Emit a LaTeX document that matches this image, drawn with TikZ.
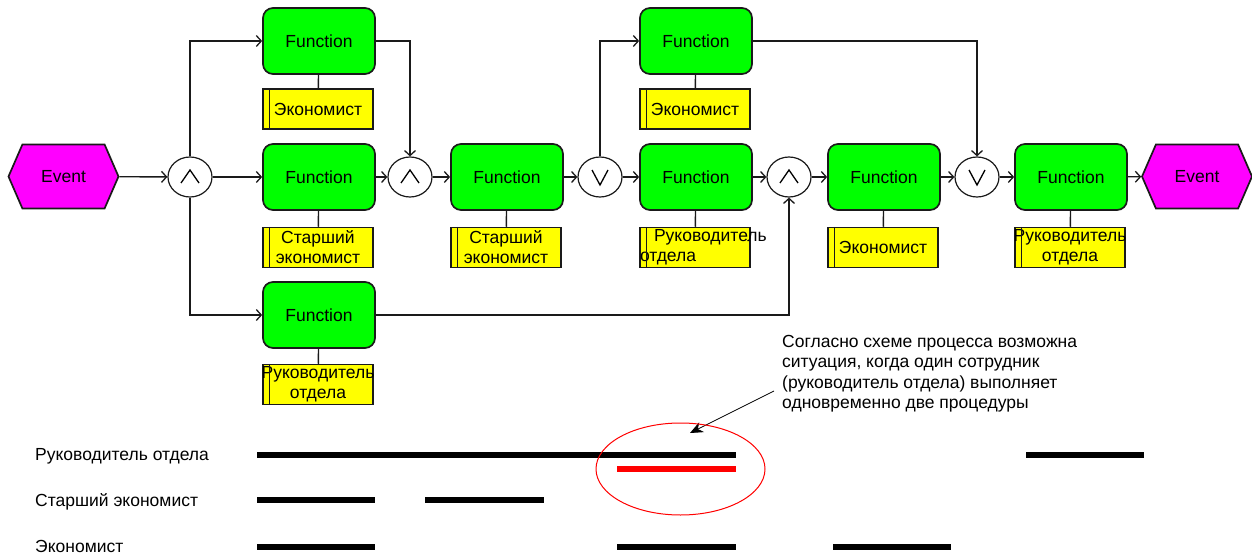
\documentclass[tikz,border=0pt]{standalone}
\usepackage{fontspec}
\setmainfont{Liberation Sans}
\usetikzlibrary{arrows.meta,shapes.geometric,shapes.symbols}
\definecolor{fngreen}{HTML}{00FF00}
\definecolor{evmagenta}{HTML}{FF00FF}
\definecolor{roleyellow}{HTML}{FFFF00}
\definecolor{hilite}{HTML}{FF0000}
\definecolor{edge}{HTML}{1A1A1A}
\begin{document}
\begin{tikzpicture}[x=1pt,y=-1pt,
  txt/.style={font=\fontsize{17.5}{20}\selectfont},
  fn/.style={txt, draw=edge, line width=1.7, fill=fngreen, rounded corners=10,
    minimum width=112, minimum height=66, inner sep=0},
  role/.style={txt, draw=edge, line width=1.5, fill=roleyellow,
    minimum width=110, minimum height=40, inner sep=0, align=center},
  ev/.style={txt, signal, signal to=west and east, signal pointer angle=133,
    draw=edge, line width=1.7, fill=evmagenta, minimum width=110,
    minimum height=64, inner sep=0},
  conn/.style={ellipse, draw=edge, line width=1.2, fill=white,
    minimum width=44, minimum height=40, inner sep=0},
  glyph/.style={line width=1.3, line join=miter},
  flow/.style={line width=1.4, draw=edge, -{Straight Barb[length=5,width=11,line width=1.3]}},
  attach/.style={line width=1.4, draw=edge},
  bar/.style={line width=6, line cap=butt},
  lbl/.style={txt, inner sep=0, anchor=base west},
]
\useasboundingbox (0,0) rectangle (1252,556);

% events
\node[ev] (evL) at (63.5,176.5) {Event};
\node[ev] (evR) at (1197,176.5) {Event};

% functions
\node[fn] (f1) at (319,41) {Function};
\node[fn] (f2) at (319,177) {Function};
\node[fn] (f8) at (319,315) {Function};
\node[fn] (f3) at (507,177) {Function};
\node[fn] (f4) at (696,41) {Function};
\node[fn] (f5) at (696,177) {Function};
\node[fn] (f6) at (884,177) {Function};
\node[fn] (f7) at (1071,177) {Function};

% organisational units
\node[role] (r1) at (318,109) {Экономист};
\node[role] (r2) at (318,247.5) {Старший\\экономист};
\node[role] (r8) at (318,384.5) {\makebox[100pt]{Руководитель}\\отдела};
\node[role] (r3) at (506,247.5) {Старший\\экономист};
\node[role] (r4) at (695,109) {Экономист};
\node[role, text width=110, align=left] (r5) at (695,247.5) {\hspace*{14pt}Руководитель\\отдела};
\node[role] (r6) at (883,247.5) {Экономист};
\node[role] (r7) at (1070,247.5) {\makebox[100pt]{Руководитель}\\отдела};
\foreach \r in {r1,r2,r3,r4,r5,r6,r7,r8}
  \draw[line width=1.2, draw=edge] ([xshift=7]\r.north west) -- ([xshift=7]\r.south west);

% rule connectors
\node[conn] (a1) at (190,177) {};
\node[conn] (a2) at (410,177) {};
\node[conn] (o1) at (600,177) {};
\node[conn] (a3) at (789,177) {};
\node[conn] (o2) at (977,177) {};
\foreach \c in {a1,a2,a3}
  \draw[glyph] ([shift={(-9,6)}]\c.center) -- ([shift={(0,-7)}]\c.center) -- ([shift={(9,6)}]\c.center);
\foreach \c in {o1,o2}
  \draw[glyph] ([shift={(-8,-7)}]\c.center) -- ([shift={(0,8)}]\c.center) -- ([shift={(8,-7)}]\c.center);

% control flow
\draw[flow] (evL) -- (a1);
\draw[flow] (a1) |- (f1);
\draw[flow] (a1) -- (f2);
\draw[flow] (a1) |- (f8);
\draw[flow] (f1) -| (a2);
\draw[flow] (f2) -- (a2);
\draw[flow] (a2) -- (f3);
\draw[flow] (f3) -- (o1);
\draw[flow] (o1) |- (f4);
\draw[flow] (o1) -- (f5);
\draw[flow] (f5) -- (a3);
\draw[flow] (f8) -| (a3);
\draw[flow] (a3) -- (f6);
\draw[flow] (f4) -| (o2);
\draw[flow] (f6) -- (o2);
\draw[flow] (o2) -- (f7);
\draw[flow] (f7) -- (evR);

% unit assignments
\foreach \f/\r in {f1/r1,f2/r2,f8/r8,f3/r3,f4/r4,f5/r5,f6/r6,f7/r7}
  \draw[attach] (\f) -- (\r);

% note
\node[txt, inner sep=0, anchor=north west, align=left,
  font=\fontsize{17.5}{20.5}\selectfont] (note) at (782,335)
  {Согласно схеме процесса возможна\\ситуация, когда один сотрудник\\(руководитель отдела) выполняет\\одновременно две процедуры};
\coordinate (tail) at (774,391);
\coordinate (tip) at (690,433);
\draw[line width=0.8, -{Stealth[length=13,width=11]}] (tail) -- (tip);

% workload timeline
\node[lbl] (t1) at (35,460) {Руководитель отдела};
\node[lbl] (t2) at (35,506) {Старший экономист};
\node[lbl] (t3) at (35,552) {Экономист};
\draw[bar] (257,455) -- (736,455);
\draw[bar] (1026,455) -- (1144,455);
\draw[bar, hilite] (617,469) -- (736,469);
\draw[bar] (257,500) -- (375,500);
\draw[bar] (425,500) -- (544,500);
\draw[bar] (257,547) -- (375,547);
\draw[bar] (617,547) -- (736,547);
\draw[bar] (833,547) -- (951,547);
\draw[hilite, line width=1] (680.5,469) ellipse [x radius=84.5, y radius=46];
\end{tikzpicture}
\end{document}
